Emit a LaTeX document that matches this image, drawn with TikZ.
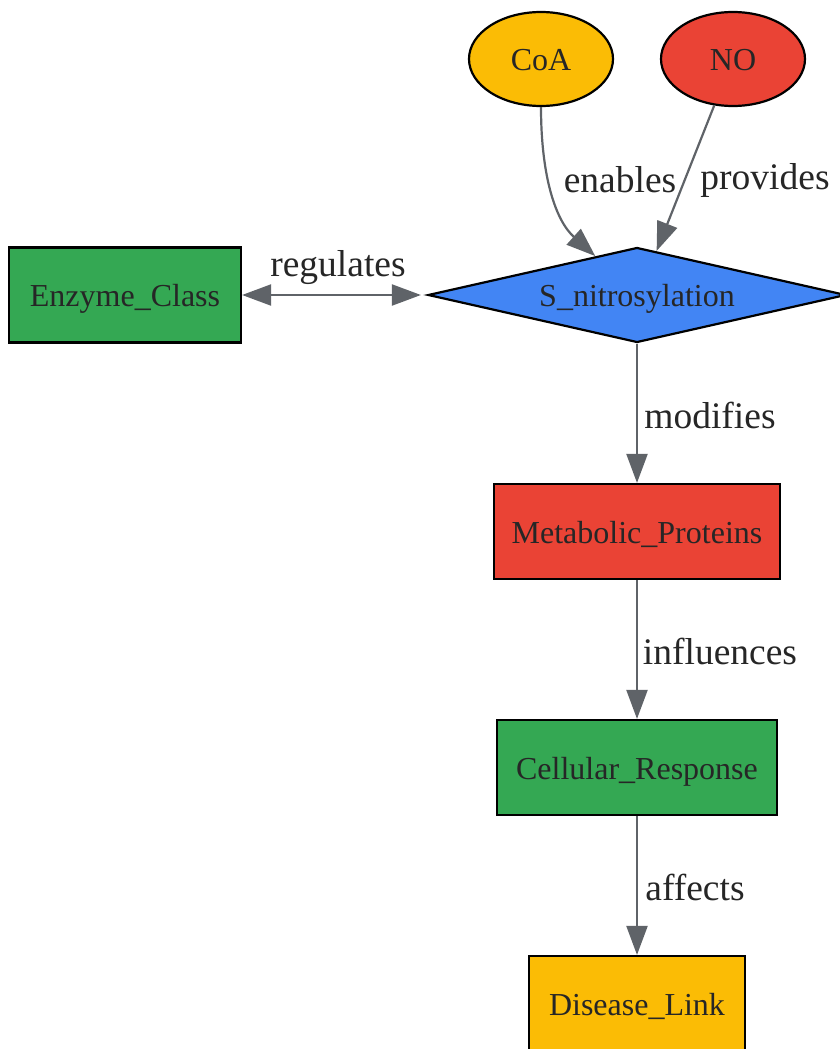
\documentclass[tikz,border=0pt]{standalone}
\usepackage{fontspec}
\setmainfont{Liberation Serif}
\usetikzlibrary{arrows.meta,shapes.geometric,calc}
\definecolor{ggreen}{HTML}{34A853}
\definecolor{gred}{HTML}{EA4335}
\definecolor{gyellow}{HTML}{FBBC05}
\definecolor{gblue}{HTML}{4285F4}
\definecolor{edgegray}{HTML}{5F6368}
\definecolor{txt}{HTML}{262626}
\tikzset{
  base/.style={draw=black, line width=2.2pt, text=txt, font=\fontsize{32}{38}\selectfont, inner sep=0pt, text height=23pt, text depth=0pt},
  boxnode/.style={base, rectangle, minimum height=95pt},
  ellnode/.style={base, ellipse, minimum width=144pt, minimum height=94pt},
  edge/.style={draw=edgegray, line width=2.2pt, -{Triangle[length=29pt,width=21pt]}},
  elabel/.style={text=txt, font=\fontsize{37.5}{44}\selectfont, inner sep=0pt}
}
\begin{document}
\begin{tikzpicture}[x=1pt,y=-1pt]
\useasboundingbox (0,0) rectangle (840,1049);
\node[ellnode, fill=gyellow] (coa) at (541,59) {CoA};
\node[ellnode, fill=gred] (no) at (733,59) {NO};
\node[base, diamond, fill=gblue, minimum width=418pt, minimum height=95pt, aspect=4.4] (sn) at (637,295) {S\_nitrosylation};
\node[boxnode, fill=ggreen, minimum width=232pt] (enz) at (125,295) {Enzyme\_Class};
\node[boxnode, fill=gred, minimum width=286pt] (met) at (637,531.5) {Metabolic\_Proteins};
\node[boxnode, fill=ggreen, minimum width=280pt] (cell) at (637,767.5) {Cellular\_Response};
\node[boxnode, fill=gyellow, minimum width=216pt] (dis) at (637,1003.5) {Disease\_Link};

\draw[edge] (coa.south) .. controls (541,175) and (555,220) .. (sn.137);
\draw[edge] (no.-112) -- (sn.66);
\draw[edge, {Triangle[length=29pt,width=21pt]}-{Triangle[length=29pt,width=21pt]}] (enz.east) -- ($(sn.west)+(-6,0)$);
\draw[edge] (sn.south) -- (met.north);
\draw[edge] (met.south) -- (cell.north);
\draw[edge] (cell.south) -- (dis.north);

\node[elabel] (l1) at (620,180) {enables};
\node[elabel] (l2) at (765,180) {provides};
\node[elabel] (l3) at (338,268) {regulates};
\node[elabel] (l4) at (710,415) {modifies};
\node[elabel] (l5) at (720,651) {influences};
\node[elabel] (l6) at (695,887) {affects};
\end{tikzpicture}
\end{document}
